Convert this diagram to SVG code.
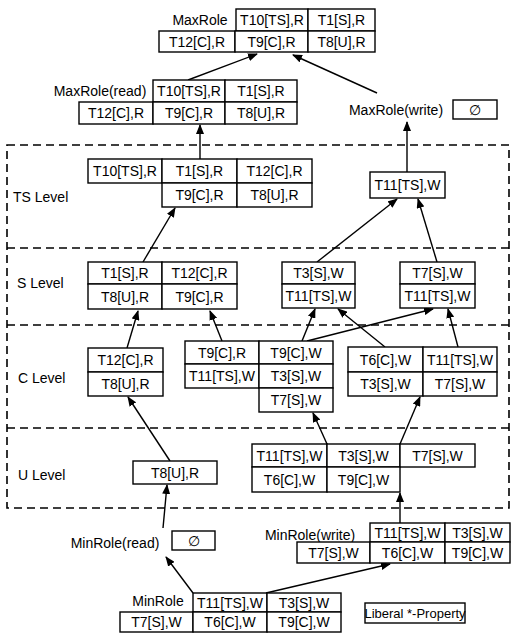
<svg xmlns="http://www.w3.org/2000/svg" width="512" height="640" viewBox="0 0 512 640">
<style>
.c{fill:#fff;stroke:#000;stroke-width:1.4}
.t{font-family:"Liberation Sans",Arial,sans-serif;font-size:14px;fill:#000;text-anchor:middle;dominant-baseline:central}
.l{font-family:"Liberation Sans",Arial,sans-serif;font-size:14px;fill:#000;dominant-baseline:central}
.d{fill:none;stroke:#000;stroke-width:1.6;stroke-dasharray:8 5}
.e{fill:none;stroke:#000;stroke-width:1.4;marker-end:url(#ah)}
</style>
<defs>
<marker id="ah" markerWidth="10" markerHeight="8" refX="9" refY="4" orient="auto" markerUnits="userSpaceOnUse">
<path d="M0,0 L10,4 L0,8 Z" fill="#000"/>
</marker>
</defs>
<rect width="512" height="640" fill="#fff"/>
<g id="levels">
<rect class="d" x="7" y="145" width="502" height="363"/>
<line class="d" x1="7" y1="248" x2="509" y2="248"/>
<line class="d" x1="7" y1="325" x2="509" y2="325"/>
<line class="d" x1="7" y1="428" x2="509" y2="428"/>
<text class="l" x="13" y="197">TS Level</text>
<text class="l" x="17" y="283">S Level</text>
<text class="l" x="18" y="378">C Level</text>
<text class="l" x="18" y="475">U Level</text>
</g>
<g id="connectors">
<line class="e" x1="188" y1="80" x2="257" y2="54"/>
<line class="e" x1="377" y1="93" x2="293" y2="55"/>
<line class="e" x1="200" y1="159" x2="200" y2="125"/>
<line class="e" x1="407" y1="172" x2="407" y2="122"/>
<line class="e" x1="143" y1="262" x2="175" y2="208"/>
<line class="e" x1="317" y1="262" x2="397" y2="199"/>
<line class="e" x1="437" y1="262" x2="418" y2="199"/>
<line class="e" x1="127" y1="348" x2="138" y2="311"/>
<line class="e" x1="222" y1="341" x2="210" y2="311"/>
<line class="e" x1="302" y1="341" x2="315" y2="309"/>
<line class="e" x1="307" y1="341" x2="433" y2="309"/>
<line class="e" x1="385" y1="347" x2="338" y2="309"/>
<line class="e" x1="458" y1="347" x2="448" y2="309"/>
<line class="e" x1="170" y1="461" x2="128" y2="397"/>
<line class="e" x1="327" y1="444" x2="313" y2="413"/>
<line class="e" x1="400" y1="444" x2="420" y2="397"/>
<line class="e" x1="163" y1="528" x2="167" y2="485"/>
<line class="e" x1="400" y1="523" x2="400" y2="493"/>
<line class="e" x1="193" y1="593" x2="166" y2="557"/>
<line class="e" x1="266" y1="593" x2="390" y2="564"/>
</g>
<g id="maxrole">
<text class="t" x="200" y="20">MaxRole</text>
<rect class="c" x="236" y="9" width="72" height="22"/><text class="t" x="272" y="20">T10[TS],R</text>
<rect class="c" x="308" y="9" width="67" height="22"/><text class="t" x="341.5" y="20">T1[S],R</text>
<rect class="c" x="159" y="31" width="76" height="21"/><text class="t" x="197" y="41.5">T12[C],R</text>
<rect class="c" x="235" y="31" width="73" height="21"/><text class="t" x="271.5" y="41.5">T9[C],R</text>
<rect class="c" x="308" y="31" width="67" height="21"/><text class="t" x="341.5" y="41.5">T8[U],R</text>
</g>
<g id="maxrole-read">
<text class="t" x="100" y="91">MaxRole(read)</text>
<rect class="c" x="153" y="80" width="72" height="22"/><text class="t" x="189" y="91">T10[TS],R</text>
<rect class="c" x="225" y="80" width="72" height="22"/><text class="t" x="261" y="91">T1[S],R</text>
<rect class="c" x="79" y="102" width="74" height="22"/><text class="t" x="116" y="113">T12[C],R</text>
<rect class="c" x="153" y="102" width="72" height="22"/><text class="t" x="189" y="113">T9[C],R</text>
<rect class="c" x="225" y="102" width="72" height="22"/><text class="t" x="261" y="113">T8[U],R</text>
</g>
<g id="maxrole-write">
<text class="t" x="396" y="110">MaxRole(write)</text>
<rect class="c" x="453" y="100" width="44" height="19"/><text class="t" x="475" y="109.5">∅</text>
</g>
<g id="ts-read">
<rect class="c" x="88" y="159" width="74" height="24"/><text class="t" x="125" y="171">T10[TS],R</text>
<rect class="c" x="162" y="159" width="75" height="24"/><text class="t" x="199.5" y="171">T1[S],R</text>
<rect class="c" x="237" y="159" width="75" height="24"/><text class="t" x="274.5" y="171">T12[C],R</text>
<rect class="c" x="162" y="183" width="75" height="24"/><text class="t" x="199.5" y="195">T9[C],R</text>
<rect class="c" x="237" y="183" width="75" height="24"/><text class="t" x="274.5" y="195">T8[U],R</text>
</g>
<g id="ts-write">
<rect class="c" x="370" y="172" width="75" height="26"/><text class="t" x="407.5" y="185">T11[TS],W</text>
</g>
<g id="s-read">
<rect class="c" x="88" y="262" width="74" height="22"/><text class="t" x="125" y="273">T1[S],R</text>
<rect class="c" x="162" y="262" width="75" height="22"/><text class="t" x="199.5" y="273">T12[C],R</text>
<rect class="c" x="88" y="284" width="74" height="25"/><text class="t" x="125" y="296.5">T8[U],R</text>
<rect class="c" x="162" y="284" width="75" height="25"/><text class="t" x="199.5" y="296.5">T9[C],R</text>
</g>
<g id="s-write1">
<rect class="c" x="282" y="262" width="73" height="22"/><text class="t" x="318.5" y="273">T3[S],W</text>
<rect class="c" x="282" y="284" width="73" height="24"/><text class="t" x="318.5" y="296">T11[TS],W</text>
</g>
<g id="s-write2">
<rect class="c" x="400" y="262" width="75" height="22"/><text class="t" x="437.5" y="273">T7[S],W</text>
<rect class="c" x="400" y="284" width="75" height="24"/><text class="t" x="437.5" y="296">T11[TS],W</text>
</g>
<g id="c-read">
<rect class="c" x="88" y="348" width="75" height="24"/><text class="t" x="125.5" y="360">T12[C],R</text>
<rect class="c" x="88" y="372" width="75" height="24"/><text class="t" x="125.5" y="384">T8[U],R</text>
</g>
<g id="c-mixed">
<rect class="c" x="185" y="341" width="74" height="23"/><text class="t" x="222" y="352.5">T9[C],R</text>
<rect class="c" x="185" y="364" width="74" height="24"/><text class="t" x="222" y="376">T11[TS],W</text>
<rect class="c" x="259" y="341" width="74" height="23"/><text class="t" x="296" y="352.5">T9[C],W</text>
<rect class="c" x="259" y="364" width="74" height="24"/><text class="t" x="296" y="376">T3[S],W</text>
<rect class="c" x="259" y="388" width="74" height="24"/><text class="t" x="296" y="400">T7[S],W</text>
</g>
<g id="c-write">
<rect class="c" x="348" y="347" width="75" height="25"/><text class="t" x="385.5" y="359.5">T6[C],W</text>
<rect class="c" x="423" y="347" width="74" height="25"/><text class="t" x="460" y="359.5">T11[TS],W</text>
<rect class="c" x="348" y="372" width="75" height="24"/><text class="t" x="385.5" y="384">T3[S],W</text>
<rect class="c" x="423" y="372" width="74" height="24"/><text class="t" x="460" y="384">T7[S],W</text>
</g>
<g id="u-read">
<rect class="c" x="133" y="461" width="84" height="23"/><text class="t" x="175" y="472.5">T8[U],R</text>
</g>
<g id="u-write">
<rect class="c" x="252" y="444" width="75" height="23"/><text class="t" x="289.5" y="455.5">T11[TS],W</text>
<rect class="c" x="327" y="444" width="73" height="23"/><text class="t" x="363.5" y="455.5">T3[S],W</text>
<rect class="c" x="400" y="444" width="75" height="23"/><text class="t" x="437.5" y="455.5">T7[S],W</text>
<rect class="c" x="252" y="467" width="75" height="25"/><text class="t" x="289.5" y="479.5">T6[C],W</text>
<rect class="c" x="327" y="467" width="73" height="25"/><text class="t" x="363.5" y="479.5">T9[C],W</text>
</g>
<g id="minrole-read">
<text class="t" x="115" y="543">MinRole(read)</text>
<rect class="c" x="172" y="531" width="43" height="19"/><text class="t" x="193.5" y="540.5">∅</text>
</g>
<g id="minrole-write">
<text class="t" x="310" y="535">MinRole(write)</text>
<rect class="c" x="370" y="523" width="75" height="19"/><text class="t" x="407.5" y="532.5">T11[TS],W</text>
<rect class="c" x="445" y="523" width="65" height="19"/><text class="t" x="477.5" y="532.5">T3[S],W</text>
<rect class="c" x="297" y="542" width="73" height="21"/><text class="t" x="333.5" y="552.5">T7[S],W</text>
<rect class="c" x="370" y="542" width="75" height="21"/><text class="t" x="407.5" y="552.5">T6[C],W</text>
<rect class="c" x="445" y="542" width="65" height="21"/><text class="t" x="477.5" y="552.5">T9[C],W</text>
</g>
<g id="minrole">
<text class="t" x="158" y="601">MinRole</text>
<rect class="c" x="193" y="593" width="74" height="19"/><text class="t" x="230" y="602.5">T11[TS],W</text>
<rect class="c" x="267" y="593" width="74" height="19"/><text class="t" x="304" y="602.5">T3[S],W</text>
<rect class="c" x="120" y="612" width="73" height="20"/><text class="t" x="156.5" y="622">T7[S],W</text>
<rect class="c" x="193" y="612" width="74" height="20"/><text class="t" x="230" y="622">T6[C],W</text>
<rect class="c" x="267" y="612" width="74" height="20"/><text class="t" x="304" y="622">T9[C],W</text>
</g>
<g id="legend">
<rect class="c" x="365" y="603" width="100" height="20"/><text class="t" x="415" y="613" style="font-size:13px">Liberal *-Property</text>
</g>
</svg>
